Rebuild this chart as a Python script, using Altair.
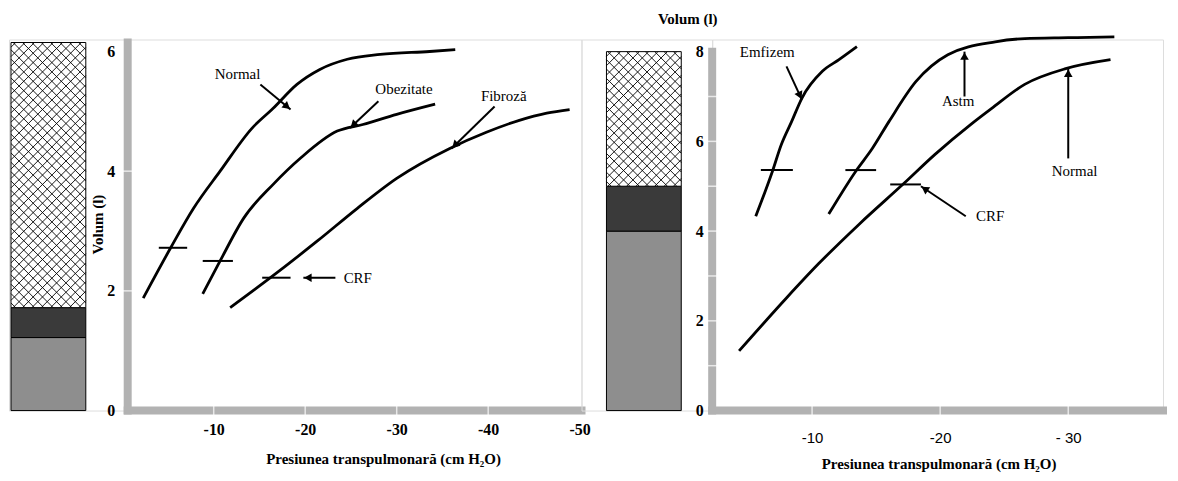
import math
import altair as alt
import pandas as pd

# ---------------- LEFT PANEL (volume l vs transpulmonary pressure cm H2O) ----------------
L_normal_x = [-2.3, -5.3, -7.8, -10.7, -14.2, -16.5, -19.1, -21.6, -24.6, -28.2, -33.6, -36.4]
L_normal_y = [1.88, 2.72, 3.38, 4.00, 4.72, 5.05, 5.45, 5.70, 5.87, 5.95, 6.00, 6.03]
L_obez_x = [-8.8, -10.7, -13.3, -16.5, -19.5, -23.5, -26.3, -30.0, -34.2]
L_obez_y = [1.95, 2.50, 3.22, 3.78, 4.22, 4.67, 4.78, 4.95, 5.12]
L_fibr_x = [-11.8, -16.2, -21.3, -25.7, -30.0, -35.8, -39.8, -43.4, -46.4, -48.9]
L_fibr_y = [1.72, 2.22, 2.83, 3.38, 3.88, 4.38, 4.65, 4.85, 4.97, 5.03]

L_crf_y = [2.72, 2.50, 2.22]
L_crf_x1 = [-4.0, -8.8, -15.3]
L_crf_x2 = [-7.1, -12.1, -18.4]

L_label_text = ["Normal", "Obezitate", "Fibroză"]
L_label_x = [-12.6, -30.8, -41.7]
L_label_y = [5.63, 5.38, 5.25]
L_crf_label_x = [-24.2]
L_crf_label_y = [2.22]

L_arrow_x1 = [-15.1, -28.0, -40.7, -23.3]
L_arrow_y1 = [5.45, 5.17, 5.08, 2.22]
L_arrow_x2 = [-18.4, -24.9, -36.0, -19.8]
L_arrow_y2 = [5.03, 4.72, 4.38, 2.22]

L_bar_edges = [0.0, 1.22, 1.72, 6.15]
L_x_ticks = [-10, -20, -30, -40, -50]
L_y_ticks = [0, 2, 4, 6]
L_y_gaps = [2, 4]
L_x_gaps = [-10, -20, -30, -40]

# ---------------- RIGHT PANEL ----------------
R_emf_x = [-5.6, -6.9, -7.6, -8.4, -9.2, -10.8, -12.1, -13.5]
R_emf_y = [4.33, 5.33, 5.93, 6.44, 6.96, 7.56, 7.82, 8.11]
R_astm_x = [-11.3, -13.4, -14.7, -16.0, -18.1, -20.6, -24.3, -26.6, -30.0, -33.6]
R_astm_y = [4.38, 5.33, 5.84, 6.44, 7.33, 7.93, 8.22, 8.29, 8.31, 8.33]
R_norm_x = [-4.3, -8.0, -10.5, -13.7, -17.2, -19.6, -22.4, -24.0, -26.6, -29.8, -33.3]
R_norm_y = [1.33, 2.51, 3.27, 4.16, 5.07, 5.71, 6.38, 6.73, 7.27, 7.62, 7.82]

R_crf_y = [5.36, 5.36, 5.04]
R_crf_x1 = [-6.0, -12.6, -16.1]
R_crf_x2 = [-8.5, -15.0, -18.5]

R_label_text = ["Emfizem", "Astm", "Normal", "CRF"]
R_label_x = [-6.5, -21.4, -30.5, -23.9]
R_label_y = [8.0, 6.89, 5.33, 4.33]

R_arrow_x1 = [-8.0, -21.9, -30.0, -22.0]
R_arrow_y1 = [7.67, 7.0, 5.62, 4.33]
R_arrow_x2 = [-9.2, -21.9, -30.0, -18.5]
R_arrow_y2 = [6.93, 8.0, 7.62, 5.0]

R_bar_edges = [0.0, 4.0, 5.0, 8.0]
R_x_ticks = [-10, -20, -30]
R_y_ticks = [0, 2, 4, 6, 8]
R_y_gaps = [1, 2, 3, 4, 5, 6, 7]
R_x_gaps = [-10, -20, -30]

XTITLE = "Presiunea transpulmonară (cm H\u2082O)"
YTITLE = "Volum (l)"

SERIF = "Liberation Serif"
SANS = "Liberation Sans"
BAND = "#b2b2b2"

# layout (px)
H = 372
BAR_W = 75
L_W, R_W = 455, 452
L_XDOM, L_YDOM = [-0.6, -50.2], [0, 6.2]
R_XDOM, R_YDOM = [-2.2, -37.4], [0, 8.27]


def hatch_path(w, h, period=9.4):
    """Cross-hatch glyph (pixel units, centred) used as a symbol shape."""
    parts = []
    c = period / 2
    while c < w + h:
        xa, xb = max(0.0, c - h), min(w, c)
        parts.append("M%.1f,%.1fL%.1f,%.1f" % (xa - w / 2, c - xa - h / 2, xb - w / 2, c - xb - h / 2))
        c += period
    d = -h + period / 2
    while d < w:
        xa, xb = max(0.0, d), min(w, d + h)
        parts.append("M%.1f,%.1fL%.1f,%.1f" % (xa - w / 2, xa - d - h / 2, xb - w / 2, xb - d - h / 2))
        d += period
    return "".join(parts)


def bar_chart(edges, width, xdom, ydom):
    xs = alt.Scale(domain=xdom, nice=False, zero=False)
    ys = alt.Scale(domain=ydom, nice=False, zero=False)
    ky = H / (ydom[1] - ydom[0])

    def seg(i):
        return pd.DataFrame({"x": [0], "x2": [1], "y": [edges[i]], "y2": [edges[i + 1]],
                             "xm": [0.5], "ym": [(edges[i] + edges[i + 1]) / 2]})

    enc = dict(x=alt.X("x:Q", scale=xs, axis=None), x2="x2",
               y=alt.Y("y:Q", scale=ys, axis=None), y2="y2")
    lh = (edges[3] - edges[2]) * ky
    gray = alt.Chart(seg(0)).mark_rect(fill="#8e8e8e", stroke="black", strokeWidth=1).encode(**enc)
    dark = alt.Chart(seg(1)).mark_rect(fill="#3a3a3a", stroke="black", strokeWidth=1).encode(**enc)
    light = alt.Chart(seg(2)).mark_rect(fill="white", stroke="black", strokeWidth=1).encode(**enc)
    hatch = alt.Chart(seg(2)).mark_point(
        shape=hatch_path(BAR_W, lh), size=4, filled=False, stroke="black", strokeWidth=0.9,
        opacity=1).encode(x=alt.X("xm:Q", scale=xs, axis=None), y=alt.Y("ym:Q", scale=ys, axis=None))
    return alt.layer(gray, dark, light, hatch).properties(width=width, height=H)


def panel(curves, crf, labels, extra_labels, arrows, xdom, ydom, width, xaxis, yaxis,
          ytop, ygaps, xgaps):
    xs = alt.Scale(domain=xdom, nice=False, zero=False)
    ys = alt.Scale(domain=ydom, nice=False, zero=False)
    kx = width / abs(xdom[1] - xdom[0])
    ky = H / (ydom[1] - ydom[0])

    def X(f):
        return alt.X(f, type="quantitative", scale=xs, axis=xaxis)

    def Y(f):
        return alt.Y(f, type="quantitative", scale=ys, axis=yaxis)

    band_v = alt.Chart(pd.DataFrame({"x": [xdom[0]], "y": [0], "y2": [ytop]})).mark_rule(
        strokeWidth=8, color=BAND, strokeCap="square").encode(x=X("x"), y=Y("y"), y2="y2")
    band_h = alt.Chart(pd.DataFrame({"x": [xdom[0]], "x2": [xdom[1]], "y": [0]})).mark_rule(
        strokeWidth=8, color=BAND, strokeCap="square").encode(x=X("x"), x2="x2", y=Y("y"))
    gap_y = alt.Chart(pd.DataFrame({"x": [xdom[0]] * len(ygaps), "y": ygaps})).mark_tick(
        orient="horizontal", size=10, thickness=1.5, color="white").encode(x=X("x"), y=Y("y"))
    gap_x = alt.Chart(pd.DataFrame({"x": xgaps, "y": [0] * len(xgaps)})).mark_tick(
        orient="vertical", size=10, thickness=1.5, color="white").encode(x=X("x"), y=Y("y"))

    rows = []
    for name, xv, yv in curves:
        for i, (a, b) in enumerate(zip(xv, yv)):
            rows.append({"series": name, "order": i, "x": a, "y": b})
    line = alt.Chart(pd.DataFrame(rows)).mark_line(
        color="black", strokeWidth=2.8, interpolate="monotone").encode(
        x=X("x"), y=Y("y"), detail="series:N", order="order:Q")

    cy, cx1, cx2 = crf
    crf_rule = alt.Chart(pd.DataFrame({"x": cx1, "x2": cx2, "y": cy})).mark_rule(
        color="black", strokeWidth=2).encode(x=X("x"), x2="x2", y=Y("y"))

    ax1, ay1, ax2, ay2 = arrows
    arr = alt.Chart(pd.DataFrame({"x": ax1, "y": ay1, "x2": ax2, "y2": ay2})).mark_rule(
        color="black", strokeWidth=2).encode(x=X("x"), y=Y("y"), x2="x2", y2="y2")
    hx, hy, ang = [], [], []
    for a1, b1, a2, b2 in zip(ax1, ay1, ax2, ay2):
        dxp = -(a2 - a1) * kx * (1 if xdom[1] < xdom[0] else -1)
        dyp = -(b2 - b1) * ky
        n = math.hypot(dxp, dyp)
        ex, ey = dxp / n, dyp / n
        hx.append(a2 + 4.5 * ex / kx)
        hy.append(b2 + 4.5 * ey / ky)
        ang.append(math.degrees(math.atan2(ex, -ey)) % 360)
    heads = alt.Chart(pd.DataFrame({"x": hx, "y": hy, "a": ang})).mark_point(
        shape="triangle-up", filled=True, size=75, color="black", opacity=1).encode(
        x=X("x"), y=Y("y"), angle=alt.Angle("a:Q", scale=None))

    lt, lx, ly = labels
    text = alt.Chart(pd.DataFrame({"t": lt, "x": lx, "y": ly})).mark_text(
        font=SERIF, fontSize=15, color="black", align="center", baseline="middle").encode(
        x=X("x"), y=Y("y"), text="t:N")
    layers = [band_v, band_h, gap_y, gap_x, line, crf_rule, arr, heads, text]
    if extra_labels is not None:
        et, ex_, ey_ = extra_labels
        layers.append(alt.Chart(pd.DataFrame({"t": et, "x": ex_, "y": ey_})).mark_text(
            font=SERIF, fontSize=15, color="black", align="left", baseline="middle").encode(
            x=X("x"), y=Y("y"), text="t:N"))
    return alt.layer(*layers).properties(width=width, height=H)


L_xaxis = alt.Axis(values=L_x_ticks, labelExpr="'-' + abs(datum.value)", domain=False, ticks=False,
                   grid=False, labelFont=SERIF, labelFontWeight="bold", labelFontSize=16,
                   labelColor="black", labelPadding=11, labelFlush=False, labelOverlap=False,
                   title=XTITLE, titleFont=SERIF, titleFontWeight="bold", titleFontSize=15,
                   titleColor="black", titleX=256, titleY=48, titleAlign="center",
                   titleBaseline="middle")
L_yaxis = alt.Axis(values=L_y_ticks, domain=False, ticks=False, grid=False, labelFont=SERIF,
                   labelFontWeight="bold", labelFontSize=16, labelColor="black", labelPadding=13,
                   labelFlush=False, labelOverlap=False, title=YTITLE, titleFont=SERIF,
                   titleFontWeight="bold", titleFontSize=15, titleColor="black", titleAngle=270,
                   titleX=-30, titleY=185, titleAlign="center", titleBaseline="middle")
R_xaxis = alt.Axis(values=R_x_ticks,
                   labelExpr="datum.value == -30 ? '- 30' : '-' + abs(datum.value)",
                   domain=False, ticks=False, grid=False, labelFont=SANS, labelFontSize=15,
                   labelColor="black", labelPadding=20, labelFlush=False, labelOverlap=False,
                   title=XTITLE, titleFont=SERIF, titleFontWeight="bold", titleFontSize=15,
                   titleColor="black", titleX=227, titleY=53, titleAlign="center",
                   titleBaseline="middle")
R_yaxis = alt.Axis(values=R_y_ticks, domain=False, ticks=False, grid=False, labelFont=SERIF,
                   labelFontWeight="bold", labelFontSize=16, labelColor="black", labelPadding=9,
                   labelFlush=False, labelOverlap=False, title=YTITLE, titleFont=SERIF,
                   titleFontWeight="bold", titleFontSize=15, titleColor="black", titleAngle=0,
                   titleX=-25, titleY=-21, titleAlign="center", titleBaseline="middle")

left_plot = panel(
    [("Normal", L_normal_x, L_normal_y), ("Obezitate", L_obez_x, L_obez_y),
     ("Fibroza", L_fibr_x, L_fibr_y)],
    (L_crf_y, L_crf_x1, L_crf_x2),
    (L_label_text, L_label_x, L_label_y),
    (["CRF"], L_crf_label_x, L_crf_label_y),
    (L_arrow_x1, L_arrow_y1, L_arrow_x2, L_arrow_y2),
    L_XDOM, L_YDOM, L_W, L_xaxis, L_yaxis, 6.15, L_y_gaps, L_x_gaps)

right_plot = panel(
    [("Emfizem", R_emf_x, R_emf_y), ("Astm", R_astm_x, R_astm_y),
     ("Normal", R_norm_x, R_norm_y)],
    (R_crf_y, R_crf_x1, R_crf_x2),
    (R_label_text, R_label_x, R_label_y),
    None,
    (R_arrow_x1, R_arrow_y1, R_arrow_x2, R_arrow_y2),
    R_XDOM, R_YDOM, R_W, R_xaxis, R_yaxis, 8.0, R_y_gaps, R_x_gaps)

left_bar = bar_chart(L_bar_edges, 119, [-2 / 75, 117 / 75], L_YDOM)
right_bar = bar_chart(R_bar_edges, 131, [-25 / 75, 106 / 75], R_YDOM)

chart = alt.hconcat(left_bar, left_plot, right_bar, right_plot, spacing=0, bounds="flush").properties(
    padding={"left": 0, "top": 2, "right": 0, "bottom": 0}
).configure_view(strokeWidth=0).configure(background="white")

chart.save("out.html", embed_options={"renderer": "svg", "actions": False})
